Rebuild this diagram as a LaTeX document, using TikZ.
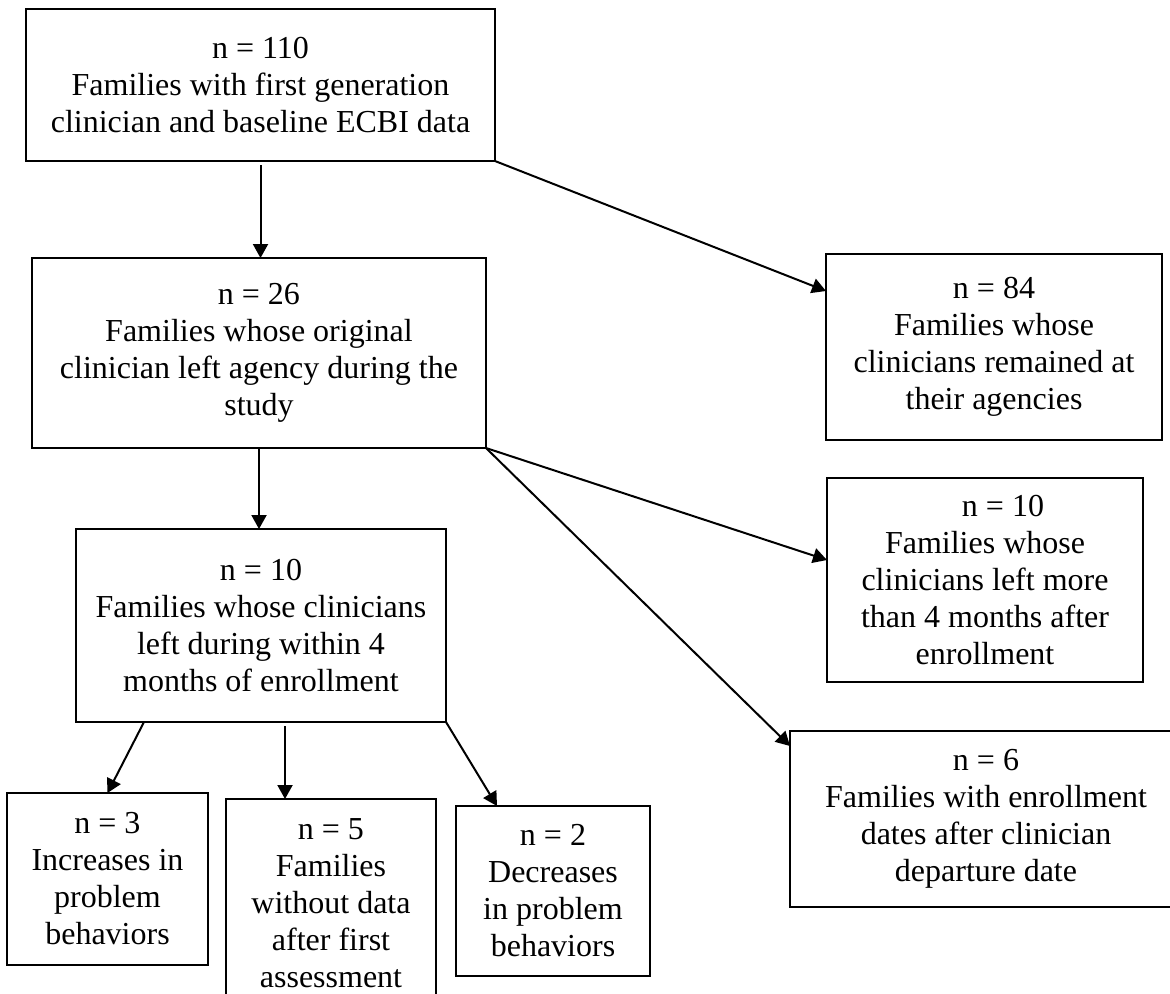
\documentclass[tikz,border=0pt]{standalone}
\usepackage{fontspec}
\setmainfont{Liberation Serif}
\usetikzlibrary{calc,arrows.meta}

\tikzset{
  box/.style={draw, line width=0.8pt, align=center, inner sep=0pt, outer sep=0pt,
    font=\fontsize{16}{18.5}\selectfont},
  arr/.style={->, line width=1pt},
  >={Triangle[length=7pt,width=7.5pt]}
}

\begin{document}
\begin{tikzpicture}[x=0.5pt, y=-0.5pt]
\useasboundingbox (0,0) rectangle (1170,993);
\clip (0,0) rectangle (1170,993);
\fill[white] (0,0) rectangle (1170,993);
%
% left column
\node[box, minimum width=234.5pt, minimum height=76pt] (all) at (260.5,85)
  {n = 110\\Families with first generation\\clinician and baseline ECBI data};
\node[box, minimum width=227pt, minimum height=95pt] (left) at (259,353)
  {n = 26\\Families whose original\\clinician left agency during the\\study};
\node[box, minimum width=185pt, minimum height=96.5pt] (early) at (261,625.5)
  {n = 10\\Families whose clinicians\\left during within 4\\months of enrollment};
\node[box, minimum width=100.5pt, minimum height=86pt] (up) at (107.5,879)
  {n = 3\\Increases in\\problem\\behaviors};
\node[box, minimum width=105pt, minimum height=104pt] (nodata) at (331,903)
  {n = 5\\Families\\without data\\after first\\assessment};
\node[box, minimum width=97pt, minimum height=85pt] (down) at (553,891)
  {n = 2\\Decreases\\in problem\\behaviors};
%
% right column
\node[box, minimum width=168pt, minimum height=93pt] (stayed) at (994,347)
  {n = 84\\Families whose\\clinicians remained at\\their agencies};
\node[box, minimum width=158pt, minimum height=102pt] (late) at (985,580)
  {\hspace*{18pt}n = 10\\Families whose\\clinicians left more\\than 4 months after\\enrollment};
\node[box, minimum width=196pt, minimum height=88pt] (before) at (986,819)
  {n = 6\\Families with enrollment\\dates after clinician\\departure date};
%
% arrows
\draw[arr] ([yshift=-2pt]all.south) -- (all.south |- left.north);
\draw[arr] (all.south east) -- ($(stayed.north west)+(0,37)$);
\draw[arr] (left.south) -- (left.south |- early.north);
\draw[arr] (left.south east) -- ($(late.north west)+(0,82)$);
\draw[arr] (left.south east) -- ($(before.north west)+(0,15)$);
\draw[arr] ($(early.south west)+(68,0)$) -- (up.north);
\draw[arr] ($(early.south west)+(209,4)$) coordinate (mid) -- (mid |- nodata.north);
\draw[arr] (early.south east) -- ($(down.north west)+(41,0)$);
\end{tikzpicture}
\end{document}
